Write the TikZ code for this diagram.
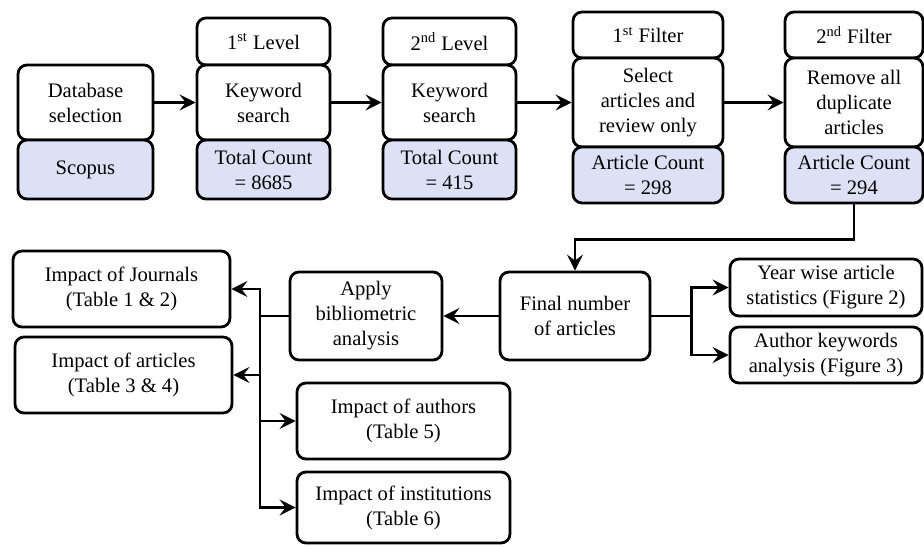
\documentclass[tikz,border=0pt]{standalone}
\usepackage{fontspec}
\setmainfont{Liberation Serif}
\usepackage{tikz}
\usepackage{xcolor}
\usetikzlibrary{arrows.meta}
\definecolor{countblue}{RGB}{220,225,245}
\tikzset{
    flow-box/.style = {draw=black, fill=white, line width=1.4pt, rectangle, rounded corners=4.5pt, align=center, inner sep=1pt, font=\fontsize{10.3}{12.5}\selectfont},
    count-box/.style = {flow-box, fill=countblue},
    link/.style = {line width=1.4pt, -{Stealth[length=8pt,width=8pt,inset=3pt]}},
}

\begin{document}
\begin{tikzpicture}[x=0.5pt, y=-0.5pt]
\useasboundingbox (0,0) rectangle (924,545);

% top row
\node [flow-box, minimum width=67.5pt, minimum height=37.5pt] (db) at (85.5,102.5) {Database\\selection};
\node [count-box, minimum width=67.5pt, minimum height=29.5pt] (scopus) at (85.5,169.5) {Scopus};

\node [flow-box, minimum width=66.5pt, minimum height=23.5pt] (lvl1) at (263.5,41.5) {1\textsuperscript{st} Level};
\node [flow-box, minimum width=66.5pt, minimum height=37.5pt] (kw1) at (263.5,102.5) {Keyword\\search};
\node [count-box, minimum width=66.5pt, minimum height=29.5pt] (tc1) at (263.5,169.5) {Total Count\\= 8685};

\node [flow-box, minimum width=66.5pt, minimum height=23.5pt] (lvl2) at (449.5,41.5) {2\textsuperscript{nd} Level};
\node [flow-box, minimum width=66.5pt, minimum height=37.5pt] (kw2) at (449.5,102.5) {Keyword\\search};
\node [count-box, minimum width=66.5pt, minimum height=29.5pt] (tc2) at (449.5,169.5) {Total Count\\= 415};

\node [flow-box, minimum width=75pt, minimum height=23pt] (filt1) at (648,35) {1\textsuperscript{st} Filter};
\node [flow-box, minimum width=75pt, minimum height=44.5pt] (sel) at (648,102.5) {Select\\articles and\\review only};
\node [count-box, minimum width=75pt, minimum height=28pt] (ac1) at (648,175) {Article Count\\= 298};

\node [flow-box, minimum width=69pt, minimum height=23pt] (filt2) at (854,35) {2\textsuperscript{nd} Filter};
\node [flow-box, minimum width=69pt, minimum height=44.5pt] (rem) at (854,102.5) {Remove all\\duplicate\\articles};
\node [count-box, minimum width=69pt, minimum height=28pt] (ac2) at (854,175) {Article Count\\= 294};

% middle row
\node [flow-box, minimum width=75pt, minimum height=44pt] (final) at (575,316) {Final number\\of articles};
\node [flow-box, minimum width=96pt, minimum height=28.5pt] (year) at (826,287.5) {Year wise article\\statistics (Figure 2)};
\node [flow-box, minimum width=96pt, minimum height=28pt] (authkw) at (826,355) {Author keywords\\analysis (Figure 3)};
\node [flow-box, minimum width=76pt, minimum height=44pt] (apply) at (366,316) {Apply\\bibliometric\\analysis};

% results
\node [flow-box, minimum width=108.5pt, minimum height=38pt] (journ) at (121.5,289) {Impact of Journals\\(Table 1 \& 2)};
\node [flow-box, minimum width=108.5pt, minimum height=38pt] (artic) at (123.5,375) {Impact of articles\\(Table 3 \& 4)};
\node [flow-box, minimum width=106.5pt, minimum height=38pt] (authors) at (403.5,421) {Impact of authors\\(Table 5)};
\node [flow-box, minimum width=106.5pt, minimum height=35.5pt] (instit) at (403.5,507.5) {Impact of institutions\\(Table 6)};

\draw [link] (db.east) -- (kw1.west);
\draw [link] (kw1.east) -- (kw2.west);
\draw [link] (kw2.east) -- (sel.west);
\draw [link] (sel.east) -- (rem.west);
\draw [link] (ac2.south) -- ++(0,35) -| (final.north);
\draw [link] (final.west) -- (apply.east);
\draw [link] (final.east) -- ++(40,0) |- (year.west);
\draw [link] (final.east) -- ++(40,0) |- (authkw.west);

\coordinate (hub) at (260,316);
\draw [line width=1.4pt] (apply.west) -- (hub);
\draw [link] (hub) |- (journ.east);
\draw [link] (hub) |- (artic.east);
\draw [link] (hub) |- (authors.west);
\draw [link] (hub) |- (instit.west);
\end{tikzpicture}
\end{document}
